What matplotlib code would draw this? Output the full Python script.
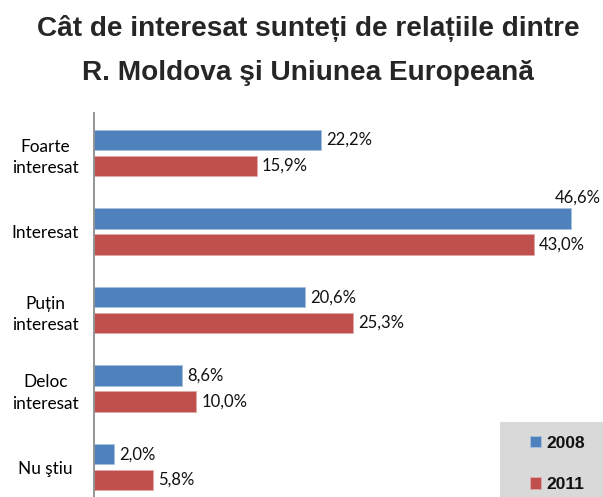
import matplotlib
matplotlib.use("Agg")
import matplotlib.pyplot as plt
from matplotlib.patches import Rectangle
import numpy as np

# data
categories = ["Foarte\ninteresat", "Interesat", "Puțin\ninteresat", "Deloc\ninteresat", "Nu ştiu"]
vals_2008 = [22.2, 46.6, 20.6, 8.6, 2.0]
vals_2011 = [15.9, 43.0, 25.3, 10.0, 5.8]
series_names = ["2008", "2011"]

blue = "#4F81BD"
red = "#C0504D"

fig = plt.figure(figsize=(6.03, 4.97), dpi=100)
ax = fig.add_axes([94 / 603, 0, 1 - 94 / 603, 1 - 113 / 497])

y = np.arange(len(categories))
h = 0.26
off = 0.165
b1 = ax.barh(y - off, vals_2008, height=h, color=blue, edgecolor="#A7C0DE", linewidth=0.6, label=series_names[0])
b2 = ax.barh(y + off, vals_2011, height=h, color=red, edgecolor="#E0A8A6", linewidth=0.6, label=series_names[1])

xmax = 49.7
ax.set_xlim(0, xmax)
ax.set_ylim(4.38, -0.51)

def fmt(v):
    return ("%.1f%%" % v).replace(".", ",")

for bars, vals in ((b1, vals_2008), (b2, vals_2011)):
    for rect, v in zip(bars, vals):
        cy = rect.get_y() + rect.get_height() / 2
        if v > 45:
            ax.text(xmax - 0.25, cy - 0.27, fmt(v), ha="right", va="center",
                    fontsize=12, family="Lato", color="#111111")
        else:
            ax.annotate(fmt(v), (v, cy), xytext=(3.5, 0), textcoords="offset points",
                        ha="left", va="center", fontsize=12, family="Lato", color="#111111")

ax.set_yticks(y)
ax.set_yticklabels(categories, ha="center", fontsize=12.4, family="Lato", linespacing=1.45)
ax.tick_params(axis="y", length=0, pad=35)
ax.set_xticks([])
for s in ("top", "right", "bottom"):
    ax.spines[s].set_visible(False)
ax.spines["left"].set_color("#8C8C8C")
ax.spines["left"].set_linewidth(1.3)

# grey legend box
box = Rectangle((500 / 603, 0), 103 / 603, 75 / 497, transform=fig.transFigure,
                facecolor="#D9D9D9", edgecolor="none", zorder=4, clip_on=False)
ax.add_patch(box)
leg = ax.legend(loc="center left", bbox_to_anchor=(530 / 603, 33 / 497), bbox_transform=fig.transFigure,
                frameon=False,
                prop={"family": "Liberation Sans", "weight": "bold", "size": 12.5},
                handlelength=0.62, handleheight=0.62, handletextpad=0.35,
                labelspacing=1.5, borderpad=0.0, borderaxespad=0)
leg.set_zorder(6)
for t in leg.get_texts():
    t.set_color("#111111")

fig.text(0.511, 1 - 28 / 497, "Cât de interesat sunteți de relațiile dintre", ha="center", va="center",
         fontsize=20.2, fontweight="bold", family="Liberation Sans", color="#262626")
fig.text(0.511, 1 - 73 / 497, "R. Moldova şi Uniunea Europeană", ha="center", va="center",
         fontsize=20.2, fontweight="bold", family="Liberation Sans", color="#262626")

fig.savefig("out.png", dpi=100)
